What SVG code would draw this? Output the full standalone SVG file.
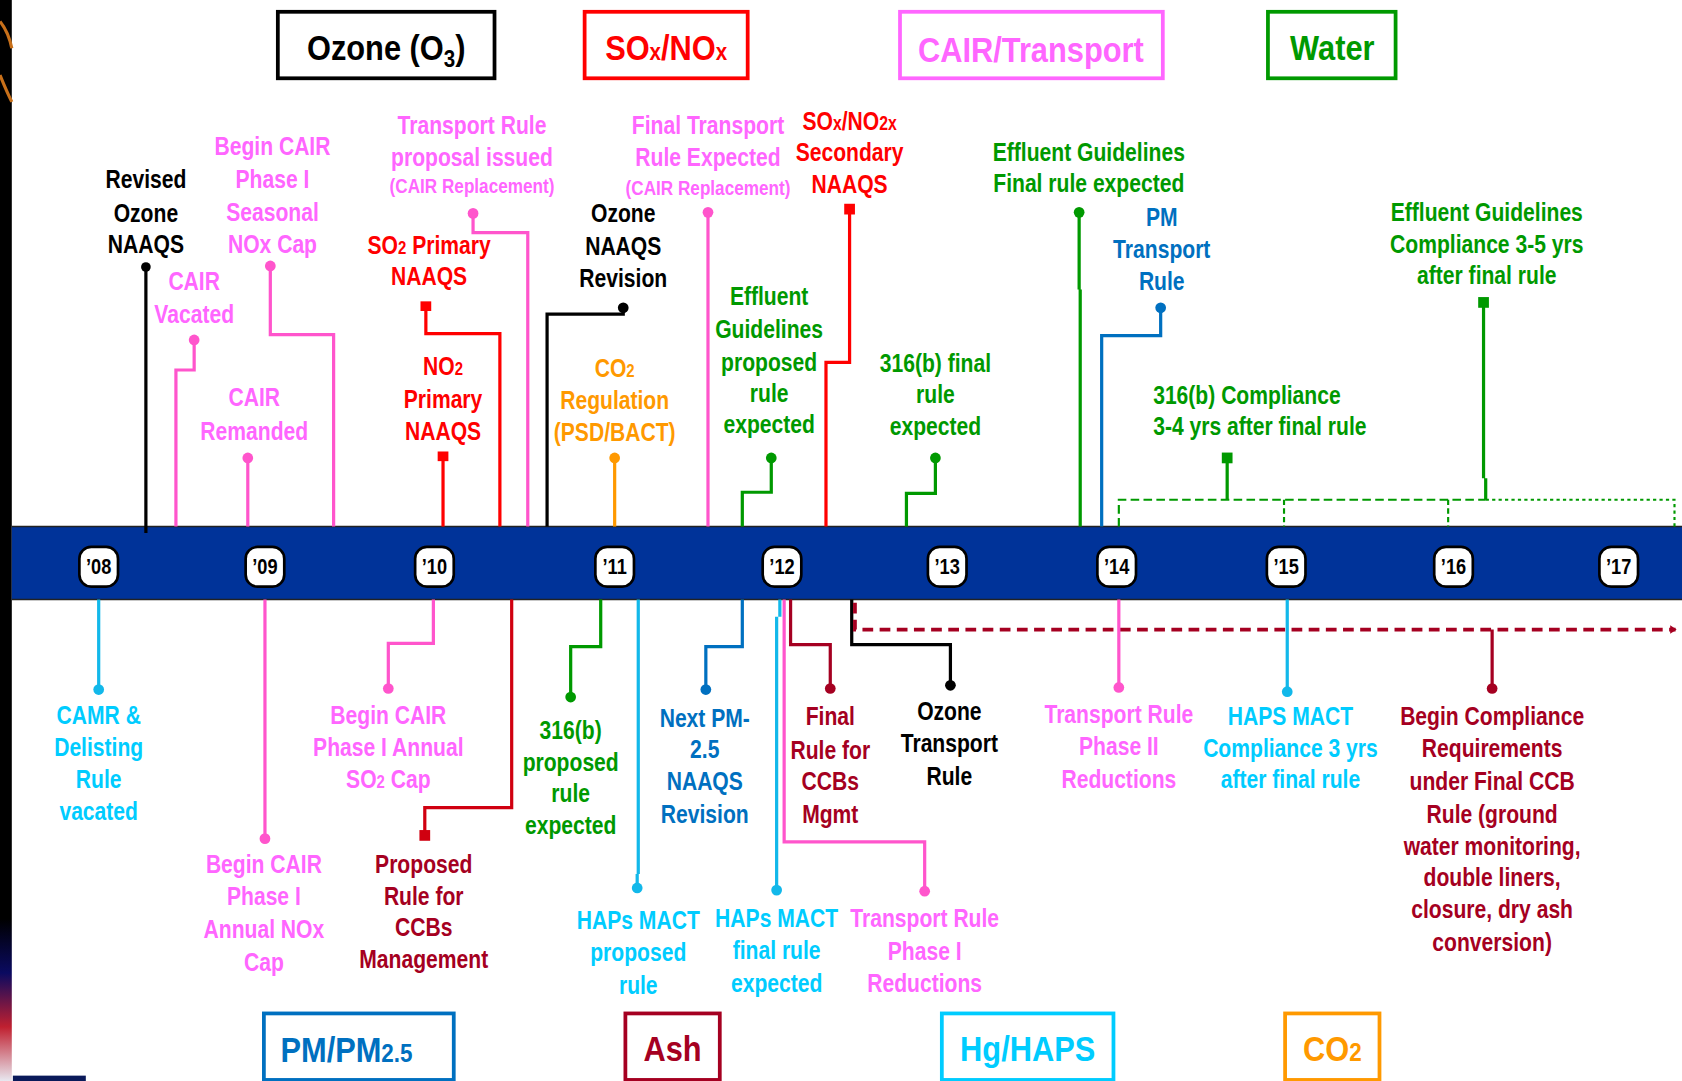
<svg xmlns="http://www.w3.org/2000/svg" width="1682" height="1081" viewBox="0 0 1682 1081">
<style>
text{font-family:"Liberation Sans",Arial,sans-serif;font-weight:bold;text-anchor:middle}
.l{font-size:24px}
.s{font-size:19.5px}
.h{font-size:33px}
.yr{font-size:20px;fill:#000}
.k{fill:#000}.m{fill:#ff66ff}.r{fill:#ff0000}.g{fill:#009900}.b{fill:#0070c0}.c{fill:#00ccff}.o{fill:#ff9900}.d{fill:#a50021}
.cn{fill:none;stroke-width:3}
.sk{stroke:#000}.sm{stroke:#ff55cc}.sr{stroke:#ff0000}.sg{stroke:#009900}.sb{stroke:#0070c0}.sc{stroke:#12b8ea}.so{stroke:#ff9900}.sd{stroke:#a50021}.sr2{stroke:#d00010}
.bx{fill:#fff;stroke-width:3.5}
.badge{fill:#fff;stroke:#000;stroke-width:2.5}
</style>
<defs>
<marker id="ar" markerWidth="6" markerHeight="8" refX="5" refY="4" orient="auto" markerUnits="userSpaceOnUse"><path d="M0,0 L6,4 L0,8 Z" fill="#a50021"/></marker>
<linearGradient id="lg" x1="0" y1="0" x2="0" y2="1"><stop offset="0" stop-color="#000"/><stop offset="0.85" stop-color="#000"/><stop offset="0.9" stop-color="#0a0a60"/><stop offset="0.95" stop-color="#c02030"/><stop offset="1" stop-color="#e8e8f0"/></linearGradient>
</defs>
<rect width="1682" height="1081" fill="#fff"/>
<g transform="scale(1.072704,1.072421)">
<g id="background">
<rect x="0" y="0" width="11" height="1008" fill="url(#lg)"/>
<path d="M0,20 Q8,30 11,45 M0,70 Q6,85 11,95" stroke="#c8701a" stroke-width="3" fill="none"/>
<rect x="12" y="1003" width="68" height="5" fill="#0a1a5a"/>
</g>
<g id="timeline">
<rect x="11" y="491" width="1557" height="68" fill="#003399"/>
<line x1="11" y1="491" x2="1568" y2="491" stroke="#222" stroke-width="1.5"/>
<line x1="11" y1="559" x2="1568" y2="559" stroke="#222" stroke-width="1.5"/>
</g>
<g id="years">
<g id="y08"><rect class="badge" x="74" y="510" width="36" height="37" rx="11"/><text class="yr" transform="translate(92,535) scale(0.85,1)">’08</text></g>
<g id="y09"><rect class="badge" x="229" y="510" width="36" height="37" rx="11"/><text class="yr" transform="translate(247,535) scale(0.85,1)">’09</text></g>
<g id="y10"><rect class="badge" x="387" y="510" width="36" height="37" rx="11"/><text class="yr" transform="translate(405,535) scale(0.85,1)">’10</text></g>
<g id="y11"><rect class="badge" x="555" y="510" width="36" height="37" rx="11"/><text class="yr" transform="translate(573,535) scale(0.85,1)">’11</text></g>
<g id="y12"><rect class="badge" x="711" y="510" width="36" height="37" rx="11"/><text class="yr" transform="translate(729,535) scale(0.85,1)">’12</text></g>
<g id="y13"><rect class="badge" x="865" y="510" width="36" height="37" rx="11"/><text class="yr" transform="translate(883,535) scale(0.85,1)">’13</text></g>
<g id="y14"><rect class="badge" x="1023" y="510" width="36" height="37" rx="11"/><text class="yr" transform="translate(1041,535) scale(0.85,1)">’14</text></g>
<g id="y15"><rect class="badge" x="1181" y="510" width="36" height="37" rx="11"/><text class="yr" transform="translate(1199,535) scale(0.85,1)">’15</text></g>
<g id="y16"><rect class="badge" x="1337" y="510" width="36" height="37" rx="11"/><text class="yr" transform="translate(1355,535) scale(0.85,1)">’16</text></g>
<g id="y17"><rect class="badge" x="1491" y="510" width="36" height="37" rx="11"/><text class="yr" transform="translate(1509,535) scale(0.85,1)">’17</text></g>
</g>
<g id="connectors">
<path class="cn sk" d="M136,248 V497"/>
<path class="cn sm" d="M252,247 V312 H311 V491"/>
<path class="cn sm" d="M181,316 V345 H164 V491"/>
<path class="cn sm" d="M231,426 V491"/>
<path class="cn sm" d="M441,198 V217 H492 V491"/>
<path class="cn sr" d="M397,285 V311 H466 V491"/>
<path class="cn sr" d="M413,425 V491"/>
<path class="cn sk" d="M581,286 V293 H510 V491"/>
<path class="cn so" d="M573,426 V491"/>
<path class="cn sm" d="M660,197 V491"/>
<path class="cn sr" d="M792,195 V338 H770 V491"/>
<path class="cn sg" d="M719,426 V459 H692 V491"/>
<path class="cn sg" d="M872,426 V460 H845 V491"/>
<path class="cn sg" d="M1006,197 V270 M1007,270 V491"/>
<path class="cn sb" d="M1082,286 V313 H1027 V491"/>
<path class="cn sg" d="M1383,282 V446 M1385,446 V466"/>
<path class="cn sg" d="M1144,427 V466"/>
<path fill="none" stroke="#009900" stroke-width="2" stroke-dasharray="8,4" d="M1043,491 V466 H1385"/>
<path fill="none" stroke="#009900" stroke-width="2" stroke-dasharray="3,3" d="M1385,466 H1561 V491"/>
<path fill="none" stroke="#009900" stroke-width="2" stroke-dasharray="5,3" d="M1197,466 V491 M1350,466 V491"/>
<path class="cn sc" d="M92,559 V643"/>
<path class="cn sm" d="M247,559 V782"/>
<path class="cn sm" d="M404,559 V600 H362 V642"/>
<path class="cn sr2" d="M477,559 V753 H396 V778"/>
<path class="cn sg" d="M560,559 V603 H532 V650"/>
<path class="cn sc" d="M595,559 V815 M594,815 V828"/>
<path class="cn sb" d="M692,559 V603 H658 V643"/>
<path class="cn sc" d="M727,559 V575 M724,575 V830"/>
<path class="cn sm" d="M731,559 V785 H862 V831"/>
<path class="cn sd" d="M737,559 V601 H774 V642"/>
<path class="cn sk" d="M794,559 V601 H886 V639"/>
<path fill="none" stroke="#a50021" stroke-width="3.5" stroke-dasharray="10,6" d="M797,562 V587 H1562" marker-end="url(#ar)"/>
<path class="cn sd" d="M1391,587 V642"/>
<path class="cn sm" d="M1043,559 V641"/>
<path class="cn sc" d="M1200,559 V645"/>
</g>
<g id="dots">
<circle cx="136" cy="249" r="4.5" fill="#000"/>
<circle cx="252" cy="248" r="5" fill="#ff55cc"/>
<circle cx="181" cy="317" r="5" fill="#ff55cc"/>
<circle cx="231" cy="427" r="5" fill="#ff55cc"/>
<circle cx="441" cy="199" r="5" fill="#ff55cc"/>
<rect x="392" y="281" width="10" height="9" fill="#ff0000"/>
<rect x="408" y="421" width="10" height="9" fill="#ff0000"/>
<circle cx="581" cy="287" r="5" fill="#000"/>
<circle cx="573" cy="427" r="5" fill="#ff9900"/>
<circle cx="660" cy="198" r="5" fill="#ff55cc"/>
<rect x="787" y="190" width="10" height="10" fill="#ff0000"/>
<circle cx="719" cy="427" r="5" fill="#009900"/>
<circle cx="872" cy="427" r="5" fill="#009900"/>
<circle cx="1006" cy="198" r="5" fill="#009900"/>
<circle cx="1082" cy="287" r="5" fill="#0070c0"/>
<rect x="1378" y="277" width="10" height="10" fill="#009900"/>
<rect x="1139" y="422" width="10" height="10" fill="#009900"/>
<circle cx="92" cy="643" r="5" fill="#12b8ea"/>
<circle cx="247" cy="782" r="5" fill="#ff55cc"/>
<circle cx="362" cy="642" r="5" fill="#ff55cc"/>
<rect x="391" y="774" width="10" height="10" fill="#d00010"/>
<circle cx="532" cy="650" r="5" fill="#009900"/>
<circle cx="594" cy="828" r="5" fill="#12b8ea"/>
<circle cx="658" cy="643" r="5" fill="#0070c0"/>
<circle cx="724" cy="830" r="5" fill="#12b8ea"/>
<circle cx="862" cy="831" r="5" fill="#ff55cc"/>
<circle cx="774" cy="642" r="5" fill="#a50021"/>
<circle cx="886" cy="639" r="5" fill="#000"/>
<circle cx="1391" cy="642" r="5" fill="#a50021"/>
<circle cx="1043" cy="641" r="5" fill="#ff55cc"/>
<circle cx="1200" cy="645" r="5" fill="#12b8ea"/>
</g>
<g id="cat-ozone"><rect class="bx" x="259" y="11" width="202" height="62" stroke="#000"/><text class="h k" transform="translate(360,56) scale(0.87,1)">Ozone (O<tspan font-size="22" dy="6">3</tspan><tspan dy="-6">)</tspan></text></g>
<g id="cat-soxnox"><rect class="bx" x="545" y="11" width="152" height="62" stroke="#ff0000"/><text class="h r" transform="translate(621,56) scale(0.87,1)">SO<tspan font-size="22">x</tspan>/NO<tspan font-size="22">x</tspan></text></g>
<g id="cat-cair"><rect class="bx" x="839" y="11" width="245" height="62" stroke="#ff66ff"/><text class="h m" transform="translate(961,58) scale(0.87,1)">CAIR/Transport</text></g>
<g id="cat-water"><rect class="bx" x="1182" y="11" width="119" height="62" stroke="#009900"/><text class="h g" transform="translate(1242,56) scale(0.87,1)">Water</text></g>
<g id="cat-pm"><rect class="bx" x="246" y="945" width="177" height="62" stroke="#0070c0"/><text class="h b" transform="translate(323,990) scale(0.87,1)">PM/PM<tspan font-size="24">2.5</tspan></text></g>
<g id="cat-ash"><rect class="bx" x="583" y="945" width="88" height="62" stroke="#a50021"/><text class="h d" transform="translate(627,989) scale(0.87,1)">Ash</text></g>
<g id="cat-hg"><rect class="bx" x="878" y="945" width="160" height="62" stroke="#00ccff"/><text class="h c" transform="translate(958,989) scale(0.87,1)">Hg/HAPS</text></g>
<g id="cat-co2"><rect class="bx" x="1198" y="945" width="88" height="62" stroke="#ff9900"/><text class="h o" transform="translate(1242,989) scale(0.87,1)">CO<tspan font-size="24">2</tspan></text></g>
<g id="ev-revised-ozone" transform="translate(136,0) scale(0.82,1)"><text class="l k"><tspan x="0" y="175">Revised</tspan><tspan x="0" y="207">Ozone</tspan><tspan x="0" y="236">NAAQS</tspan></text></g>
<g id="ev-cair-seasonal" transform="translate(254,0) scale(0.82,1)"><text class="l m"><tspan x="0" y="145">Begin CAIR</tspan><tspan x="0" y="175">Phase I</tspan><tspan x="0" y="206">Seasonal</tspan><tspan x="0" y="236">NOx Cap</tspan></text></g>
<g id="ev-cair-vacated" transform="translate(181,0) scale(0.82,1)"><text class="l m"><tspan x="0" y="270">CAIR</tspan><tspan x="0" y="301">Vacated</tspan></text></g>
<g id="ev-cair-remanded" transform="translate(237,0) scale(0.82,1)"><text class="l m"><tspan x="0" y="379">CAIR</tspan><tspan x="0" y="410">Remanded</tspan></text></g>
<g id="ev-tr-proposal" transform="translate(440,0) scale(0.82,1)"><text class="l m"><tspan x="0" y="125">Transport Rule</tspan><tspan x="0" y="155">proposal issued</tspan><tspan class="s" x="0" y="180">(CAIR Replacement)</tspan></text></g>
<g id="ev-so2-primary" transform="translate(400,0) scale(0.82,1)"><text class="l r"><tspan x="0" y="237">SO<tspan font-size="17">2</tspan> Primary</tspan><tspan x="0" y="266">NAAQS</tspan></text></g>
<g id="ev-no2-primary" transform="translate(413,0) scale(0.82,1)"><text class="l r"><tspan x="0" y="350">NO<tspan font-size="17">2</tspan></tspan><tspan x="0" y="380">Primary</tspan><tspan x="0" y="410">NAAQS</tspan></text></g>
<g id="ev-ozone-revision" transform="translate(581,0) scale(0.82,1)"><text class="l k"><tspan x="0" y="207">Ozone</tspan><tspan x="0" y="238">NAAQS</tspan><tspan x="0" y="268">Revision</tspan></text></g>
<g id="ev-co2-reg" transform="translate(573,0) scale(0.82,1)"><text class="l o"><tspan x="0" y="352">CO<tspan font-size="17">2</tspan></tspan><tspan x="0" y="381">Regulation</tspan><tspan x="0" y="411">(PSD/BACT)</tspan></text></g>
<g id="ev-final-transport" transform="translate(660,0) scale(0.82,1)"><text class="l m"><tspan x="0" y="125">Final Transport</tspan><tspan x="0" y="155">Rule Expected</tspan><tspan class="s" x="0" y="182">(CAIR Replacement)</tspan></text></g>
<g id="ev-secondary" transform="translate(792,0) scale(0.82,1)"><text class="l r"><tspan x="0" y="121">SO<tspan font-size="18">x</tspan>/NO<tspan font-size="18">2x</tspan></tspan><tspan x="0" y="150">Secondary</tspan><tspan x="0" y="180">NAAQS</tspan></text></g>
<g id="ev-effluent-proposed" transform="translate(717,0) scale(0.82,1)"><text class="l g"><tspan x="0" y="284">Effluent</tspan><tspan x="0" y="315">Guidelines</tspan><tspan x="0" y="346">proposed</tspan><tspan x="0" y="375">rule</tspan><tspan x="0" y="404">expected</tspan></text></g>
<g id="ev-316b-final" transform="translate(872,0) scale(0.82,1)"><text class="l g"><tspan x="0" y="347">316(b) final</tspan><tspan x="0" y="376">rule</tspan><tspan x="0" y="406">expected</tspan></text></g>
<g id="ev-effluent-final" transform="translate(1015,0) scale(0.82,1)"><text class="l g"><tspan x="0" y="150">Effluent Guidelines</tspan><tspan x="0" y="179">Final rule expected</tspan></text></g>
<g id="ev-pm-transport" transform="translate(1083,0) scale(0.82,1)"><text class="l b"><tspan x="0" y="211">PM</tspan><tspan x="0" y="241">Transport</tspan><tspan x="0" y="270">Rule</tspan></text></g>
<g id="ev-effluent-compliance" transform="translate(1386,0) scale(0.82,1)"><text class="l g"><tspan x="0" y="206">Effluent Guidelines</tspan><tspan x="0" y="236">Compliance 3-5 yrs</tspan><tspan x="0" y="265">after final rule</tspan></text></g>
<g id="ev-316b-compliance" transform="translate(1075,0) scale(0.82,1)"><text class="l g" style="text-anchor:start"><tspan x="0" y="377">316(b) Compliance</tspan><tspan x="0" y="406">3-4 yrs after final rule</tspan></text></g>
<g id="ev-camr" transform="translate(92,0) scale(0.82,1)"><text class="l c"><tspan x="0" y="675">CAMR &amp;</tspan><tspan x="0" y="705">Delisting</tspan><tspan x="0" y="735">Rule</tspan><tspan x="0" y="765">vacated</tspan></text></g>
<g id="ev-cair-annual-nox" transform="translate(246,0) scale(0.82,1)"><text class="l m"><tspan x="0" y="814">Begin CAIR</tspan><tspan x="0" y="844">Phase I</tspan><tspan x="0" y="875">Annual NOx</tspan><tspan x="0" y="905">Cap</tspan></text></g>
<g id="ev-cair-annual-so2" transform="translate(362,0) scale(0.82,1)"><text class="l m"><tspan x="0" y="675">Begin CAIR</tspan><tspan x="0" y="705">Phase I Annual</tspan><tspan x="0" y="735">SO<tspan font-size="17">2</tspan> Cap</tspan></text></g>
<g id="ev-ccb-proposed" transform="translate(395,0) scale(0.82,1)"><text class="l d"><tspan x="0" y="814">Proposed</tspan><tspan x="0" y="844">Rule for</tspan><tspan x="0" y="873">CCBs</tspan><tspan x="0" y="903">Management</tspan></text></g>
<g id="ev-316b-proposed" transform="translate(532,0) scale(0.82,1)"><text class="l g"><tspan x="0" y="689">316(b)</tspan><tspan x="0" y="719">proposed</tspan><tspan x="0" y="748">rule</tspan><tspan x="0" y="778">expected</tspan></text></g>
<g id="ev-haps-proposed" transform="translate(595,0) scale(0.82,1)"><text class="l c"><tspan x="0" y="866">HAPs MACT</tspan><tspan x="0" y="896">proposed</tspan><tspan x="0" y="927">rule</tspan></text></g>
<g id="ev-pm25" transform="translate(657,0) scale(0.82,1)"><text class="l b"><tspan x="0" y="678">Next PM-</tspan><tspan x="0" y="707">2.5</tspan><tspan x="0" y="737">NAAQS</tspan><tspan x="0" y="767">Revision</tspan></text></g>
<g id="ev-haps-final" transform="translate(724,0) scale(0.82,1)"><text class="l c"><tspan x="0" y="864">HAPs MACT</tspan><tspan x="0" y="894">final rule</tspan><tspan x="0" y="925">expected</tspan></text></g>
<g id="ev-tr-phase1" transform="translate(862,0) scale(0.82,1)"><text class="l m"><tspan x="0" y="864">Transport Rule</tspan><tspan x="0" y="895">Phase I</tspan><tspan x="0" y="925">Reductions</tspan></text></g>
<g id="ev-ccb-final" transform="translate(774,0) scale(0.82,1)"><text class="l d"><tspan x="0" y="676">Final</tspan><tspan x="0" y="708">Rule for</tspan><tspan x="0" y="737">CCBs</tspan><tspan x="0" y="767">Mgmt</tspan></text></g>
<g id="ev-ozone-transport" transform="translate(885,0) scale(0.82,1)"><text class="l k"><tspan x="0" y="671">Ozone</tspan><tspan x="0" y="701">Transport</tspan><tspan x="0" y="732">Rule</tspan></text></g>
<g id="ev-ccb-compliance" transform="translate(1391,0) scale(0.82,1)"><text class="l d"><tspan x="0" y="676">Begin Compliance</tspan><tspan x="0" y="706">Requirements</tspan><tspan x="0" y="737">under Final CCB</tspan><tspan x="0" y="767">Rule (ground</tspan><tspan x="0" y="797">water monitoring,</tspan><tspan x="0" y="826">double liners,</tspan><tspan x="0" y="856">closure, dry ash</tspan><tspan x="0" y="887">conversion)</tspan></text></g>
<g id="ev-tr-phase2" transform="translate(1043,0) scale(0.82,1)"><text class="l m"><tspan x="0" y="674">Transport Rule</tspan><tspan x="0" y="704">Phase II</tspan><tspan x="0" y="735">Reductions</tspan></text></g>
<g id="ev-haps-compliance" transform="translate(1203,0) scale(0.82,1)"><text class="l c"><tspan x="0" y="676">HAPS MACT</tspan><tspan x="0" y="706">Compliance 3 yrs</tspan><tspan x="0" y="735">after final rule</tspan></text></g>
</g>
</svg>
